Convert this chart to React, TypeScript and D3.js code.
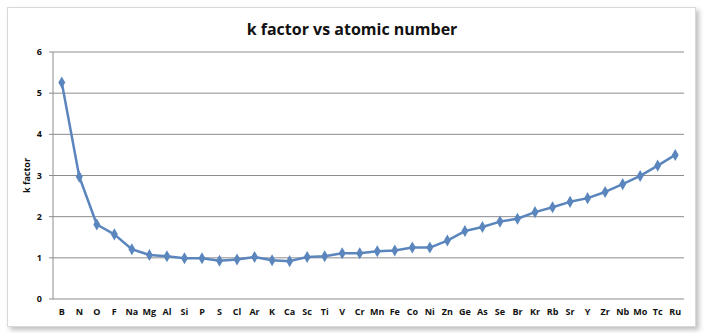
import React from "react";
import * as d3 from "d3";

const categories = ["B","N","O","F","Na","Mg","Al","Si","P","S","Cl","Ar","K","Ca","Sc","Ti","V","Cr","Mn","Fe","Co","Ni","Zn","Ge","As","Se","Br","Kr","Rb","Sr","Y","Zr","Nb","Mo","Tc","Ru"];
const kFactor = [5.26,2.97,1.81,1.57,1.21,1.07,1.04,0.99,0.99,0.93,0.96,1.02,0.94,0.92,1.02,1.04,1.11,1.11,1.16,1.18,1.25,1.25,1.42,1.65,1.75,1.88,1.95,2.11,2.23,2.36,2.45,2.60,2.79,2.99,3.24,3.50];
const yTicks = [0,1,2,3,4,5,6];
const title = "k factor vs atomic number";
const yLabel = "k factor";

export default function App() {
  const W = 709, H = 333;
  const left = 53, right = 684, top = 52, bottom = 299;
  const x = d3.scaleBand<string>().domain(categories).range([left, right]);
  const y = d3.scaleLinear().domain([0, 6]).range([bottom, top]);
  const cx = (c: string) => (x(c) as number) + x.bandwidth() / 2;
  const line = d3.line<number>().x((_, i) => cx(categories[i])).y(d => y(d));
  const diamond = d3.symbol().type(d3.symbolDiamond).size(42)() as string;
  const font = "'Open Sans', 'DejaVu Sans', sans-serif";
  return (
    <svg width={W} height={H} style={{ position: "absolute", left: 0, top: 0, background: "#fff" }}>
      <defs>
        <filter id="sh" x="-5%" y="-5%" width="115%" height="115%">
          <feDropShadow dx="3" dy="3" stdDeviation="2.5" floodColor="#000" floodOpacity="0.25" />
        </filter>
      </defs>
      <rect x={7.5} y={7.5} width={688} height={319} fill="#fff" stroke="#d9d9d9" filter="url(#sh)" />
      <text x={352} y={35} textAnchor="middle" fontFamily={font} fontWeight="bold" fontSize={16} fill="#111">{title}</text>
      {yTicks.map(t => (
        <g key={t}>
          {t > 0 && <line x1={left} x2={right} y1={y(t)} y2={y(t)} stroke="#8c8c8c" strokeWidth={1} />}
          <line x1={left - 4} x2={left} y1={y(t)} y2={y(t)} stroke="#8c8c8c" />
          <text x={42} y={y(t) + 3} textAnchor="end" fontFamily={font} fontWeight="bold" fontSize={9} fill="#111">{t}</text>
        </g>
      ))}
      <line x1={left} x2={left} y1={top} y2={bottom} stroke="#8c8c8c" />
      <line x1={left} x2={right} y1={bottom} y2={bottom} stroke="#8c8c8c" />
      {categories.map(c => (
        <text key={c} x={cx(c)} y={315} textAnchor="middle" fontFamily={font} fontWeight="bold" fontSize={9} fill="#111">{c}</text>
      ))}
      <text transform={`translate(30,${(top + bottom) / 2}) rotate(-90)`} textAnchor="middle" fontFamily={font} fontWeight="bold" fontSize={9} fill="#111">{yLabel}</text>
      <path d={line(kFactor) as string} fill="none" stroke="#5b86bd" strokeWidth={2.5} strokeLinejoin="round" />
      {kFactor.map((v, i) => (
        <path key={i} d={diamond} transform={`translate(${cx(categories[i])},${y(v)})`} fill="#5b86bd" />
      ))}
    </svg>
  );
}
